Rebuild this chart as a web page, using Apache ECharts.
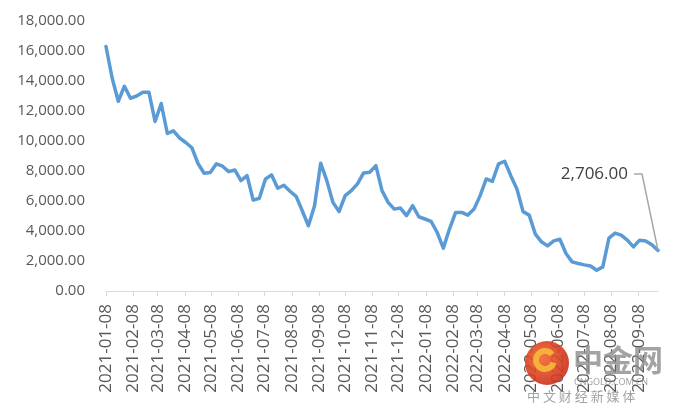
<!DOCTYPE html>
<html><head><meta charset="utf-8">
<script src="https://cdn.jsdelivr.net/npm/echarts@6/dist/echarts.min.js"></script>
<style>html,body{margin:0;padding:0;background:#fff}#c{width:680px;height:415px}</style>
</head><body><div id="c"></div>
<script>
// weekly observations starting 2021-01-08 (Fridays)
const startDate = '2021-01-08';
const values = [
  16300, 14200, 12650, 13650, 12850, 13000, 13250, 13250, 11300, 12500,
  10500, 10680, 10200, 9900, 9550, 8500, 7850, 7900, 8480, 8320,
  7960, 8070, 7360, 7690, 6060, 6180, 7470, 7740, 6850, 7050,
  6650, 6310, 5350, 4350, 5690, 8520, 7360, 5910, 5300, 6360,
  6690, 7140, 7870, 7920, 8360, 6690, 5910, 5460, 5530, 5020,
  5690, 4950, 4800, 4640, 3900, 2860, 4130, 5240, 5240, 5060,
  5460, 6360, 7470, 7310, 8480, 8650, 7690, 6800, 5290, 5060,
  3790, 3280, 3010, 3340, 3450, 2500, 1940, 1830, 1740, 1670,
  1380, 1610, 3530, 3860, 3730, 3390, 2940, 3390, 3340, 3080,
  2706
];
const tickLabels = [
  '2021-01-08','2021-02-08','2021-03-08','2021-04-08','2021-05-08','2021-06-08',
  '2021-07-08','2021-08-08','2021-09-08','2021-10-08','2021-11-08','2021-12-08',
  '2022-01-08','2022-02-08','2022-03-08','2022-04-08','2022-05-08','2022-06-08',
  '2022-07-08','2022-08-08','2022-09-08'
];
const yTicks = [0, 2000, 4000, 6000, 8000, 10000, 12000, 14000, 16000, 18000];

const DAY = 86400000;
function ts(s){ const p = s.split('-').map(Number); return Date.UTC(p[0], p[1]-1, p[2]); }
function fmtDate(t){ const d = new Date(t); const m = d.getUTCMonth()+1, dd = d.getUTCDate();
  return d.getUTCFullYear() + '-' + (m<10?'0':'') + m + '-' + (dd<10?'0':'') + dd; }
function fmtNum(v){ return Number(v).toLocaleString('en-US',{minimumFractionDigits:2, maximumFractionDigits:2}); }

const t0 = ts(startDate);
// x position = days since start date
const dayOf = (s) => Math.round((ts(s) - t0) / DAY);
const dayX = values.map((_, i) => i * 7);
const last = values.length - 1;
const seriesData = values.map((v, i) => {
  const item = { value: [dayX[i], v] };
  if (i === last) item.label = { show: true };
  return item;
});
const tickDays = tickLabels.map(dayOf);

const LX = 628, LY = 174; // data-label placement (right edge, middle)

const chart = echarts.init(document.getElementById('c'), null, { renderer: 'canvas' });
const FONT = 'Open Sans';
const baseGraphic = [
  { type: 'circle', shape: { cx: 547, cy: 363, r: 22 }, z: 100,
    style: { fill: new echarts.graphic.RadialGradient(0.4, 0.4, 0.7, [{offset:0,color:'#f0642a'},{offset:1,color:'#c8281a'}]), opacity: 0.9 } },
  { type: 'arc', shape: { cx: 545, cy: 360, r: 9, startAngle: 0.3, endAngle: 5.6 }, z: 101,
    style: { stroke: '#f6b33a', lineWidth: 6, fill: null, opacity: 0.95 } },
  { type: 'text', x: 573, y: 345, z: 100,
    style: { text: '中金网', font: 'bold 30px "Noto Sans CJK SC"', fill: '#8c8c8c', opacity: 0.8 } },
  { type: 'text', x: 574, y: 378, z: 100,
    style: { text: 'CNGOLD.COM.CN', font: '9px "Noto Sans"', fill: '#8c8c8c', opacity: 0.8 } },
  { type: 'text', x: 527, y: 390, z: 100,
    style: { text: '中 文 财 经 新 媒 体', font: '13px "Noto Sans CJK SC"', fill: '#8c8c8c', opacity: 0.8 } }
];
chart.setOption({
  animation: false,
  backgroundColor: '#ffffff',
  grid: { left: 106, right: 22, top: 21, bottom: 124, containLabel: false },
  xAxis: {
    type: 'value',
    min: dayX[0],
    max: dayX[last],
    axisLine: { show: true, onZero: false, lineStyle: { color: '#d9d9d9', width: 1 } },
    axisTick: { show: true, length: 5, lineStyle: { color: '#d9d9d9' }, customValues: tickDays },
    splitLine: { show: false },
    axisLabel: {
      customValues: tickDays,
      rotate: 90, margin: 13,
      color: '#595959', fontFamily: FONT, fontSize: 17,
      formatter: (v) => fmtDate(t0 + v * DAY)
    }
  },
  yAxis: {
    type: 'value', min: yTicks[0], max: yTicks[yTicks.length-1], interval: 2000,
    axisLine: { show: false }, axisTick: { show: false },
    splitLine: { show: false },
    axisLabel: { color: '#595959', fontFamily: FONT, fontSize: 15, margin: 21, formatter: (v) => fmtNum(v) }
  },
  series: [{
    type: 'line',
    data: seriesData,
    showSymbol: true, showAllSymbol: true, symbol: 'circle', symbolSize: 0,
    lineStyle: { color: '#5b9bd5', width: 3.5, join: 'round', cap: 'round' },
    itemStyle: { color: '#5b9bd5' },
    label: { show: false, formatter: (p) => fmtNum(p.value[1]), color: '#404040', fontFamily: FONT, fontSize: 17 },
    labelLine: { show: false },
    labelLayout: (p) => {
      if (p.dataIndex !== last) return {};
      return { x: LX, y: LY, align: 'right', verticalAlign: 'middle' };
    },
    emphasis: { disabled: true }
  }],
  graphic: baseGraphic
});
// leader line from the data label to the last point (point position from the axis scales)
const pt = chart.convertToPixel({ seriesIndex: 0 }, [dayX[last], values[last]]);
chart.setOption({
  graphic: baseGraphic.concat([{
    type: 'polyline', z: 5, silent: true,
    shape: { points: [[LX + 6, LY], [LX + 14, LY], pt] },
    style: { stroke: '#a6a6a6', lineWidth: 1.5, fill: null }
  }])
});
</script>
</body></html>
